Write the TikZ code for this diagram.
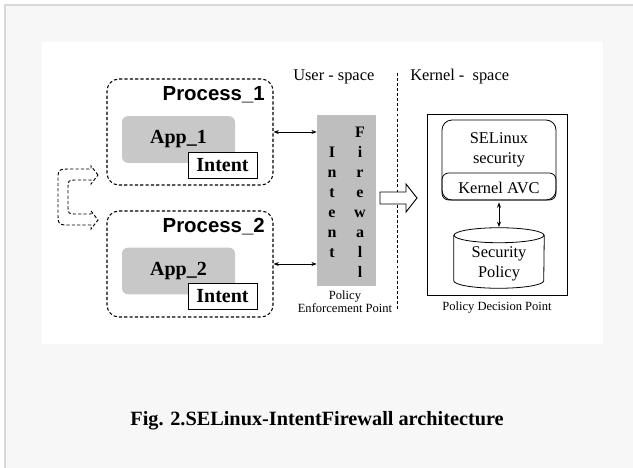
\documentclass[tikz,border=0pt]{standalone}
\usepackage{fontspec}
\setmainfont{Liberation Serif}
\newfontfamily\headsans{Liberation Sans}
\usetikzlibrary{arrows.meta}

\definecolor{pagebg}{HTML}{F7F7F7}
\definecolor{pageedge}{HTML}{D8D8D8}
\definecolor{appgray}{HTML}{C8C8C8}
\definecolor{fwgray}{HTML}{BEBEBE}

\begin{document}
\begin{tikzpicture}[x=0.75pt,y=-0.75pt,
  procbox/.style={draw, line width=0.8pt, dash pattern=on 2.4pt off 1.6pt,
    rounded corners=9pt, minimum width=124.5pt, minimum height=79.5pt, inner sep=0pt},
  appbox/.style={fill=appgray, rounded corners=4.5pt, minimum width=84.75pt,
    minimum height=35pt, inner sep=0pt, font=\fontsize{15}{18}\selectfont\bfseries},
  intentbox/.style={draw, fill=white, line width=0.6pt, minimum width=51.75pt,
    minimum height=19.5pt, inner sep=0pt, font=\fontsize{15}{18}\selectfont\bfseries},
  proctitle/.style={anchor=base east, inner sep=0pt,
    font=\headsans\fontsize{15.3}{18}\selectfont\bfseries},
  spacelabel/.style={anchor=base west, inner sep=0pt, font=\fontsize{12.3}{14}\selectfont},
  smalllabel/.style={inner sep=0pt, align=center, font=\fontsize{9.4}{9.75}\selectfont},
  boxtext/.style={inner sep=0pt, align=center, font=\fontsize{12.3}{15}\selectfont},
  fwletter/.style={anchor=base, inner sep=0pt, font=\fontsize{12}{14}\selectfont\bfseries},
  link/.style={line width=0.6pt, {Stealth[length=4pt,width=3pt]}-{Stealth[length=4pt,width=3pt]}},
  thinbox/.style={draw, line width=0.6pt, inner sep=0pt},
  hollow/.style={draw, line width=0.7pt, fill=white, line join=miter},
]
% page and panel
\useasboundingbox (0,0) rectangle (633,468);
\fill[white] (0,0) rectangle (633,468);
\fill[pagebg] (5,5) rectangle (633,468);
\draw[pageedge, line width=1.5pt] (5,468) -- (5,5) -- (633,5);
\fill[white] (42,42) rectangle (603,344);

% user / kernel separator
\node[spacelabel] (userlbl) at (293,80) {User - space};
\node[spacelabel] (kernlbl) at (410,80) {Kernel -\ \ space};
\coordinate (septop) at (397,73);
\coordinate (sepbot) at (397,310);
\draw[line width=0.6pt, dash pattern=on 2.2pt off 1.6pt] (septop) -- (sepbot);

% processes
\node[procbox] (proc1) at (190,132) {};
\node[proctitle] (ptitle1) at (265,100) {Process\_1};
\node[appbox] (app1) at (178.5,139.5) {App\_1};
\node[intentbox] (int1) at (222.5,165) {Intent};

\node[procbox] (proc2) at (190,264) {};
\node[proctitle] (ptitle2) at (265,232) {Process\_2};
\node[appbox] (app2) at (178.5,271) {App\_2};
\node[intentbox] (int2) at (222.5,296.5) {Intent};

% dashed U-turn arrow between the processes
\draw[line width=0.7pt, dash pattern=on 2.4pt off 1.6pt, line join=miter]
  (98,175) -- (91,166) -- (91,169) -- (71,169)
  .. controls (58,169) and (58,169) .. (58,182) -- (58,212)
  .. controls (58,225) and (58,225) .. (71,225) -- (91,225)
  -- (91,229) -- (98,220) -- (91,211) -- (91,214) -- (77,214)
  .. controls (68,214) and (68,214) .. (68,205) -- (68,189)
  .. controls (68,180) and (68,180) .. (77,180) -- (91,180) -- (91,184) -- cycle;

% intent firewall
\node[fill=fwgray, minimum width=44.25pt, minimum height=128.25pt, inner sep=0pt]
  (fw) at (346.5,200.5) {};
\foreach \ch [count=\k] in {I,n,t,e,n,t}
  \node[fwletter] (intl\k) at (332,137+20*\k) {\ch};
\foreach \ch [count=\k from 0] in {F,i,r,e,w,a,l,l}
  \node[fwletter] (fwl\k) at (360,137+20*\k) {\ch};
\node[smalllabel] (pep) at (345,301.5) {Policy\\Enforcement Point};

\draw[link] (proc1.east) -- (proc1.east -| fw.west);
\draw[link] (proc2.east) -- (proc2.east -| fw.west);

% block arrow into the kernel
\draw[hollow] (380,192) -- (406,192) -- (406,184) -- (417,198)
  -- (406,212) -- (406,204) -- (380,204) -- cycle;

% policy decision point
\node[thinbox, minimum width=105pt, minimum height=135.75pt] (pdp) at (497,204.5) {};
\node[thinbox, rounded corners=7.5pt, minimum width=85.5pt, minimum height=60pt]
  (selx) at (499,160) {};
\node[thinbox, rounded corners=5pt, minimum width=85.5pt, minimum height=20.25pt]
  (avc) at (499,186.5) {};
\node[boxtext] (selxtxt) at (499,150) {SELinux\\security};
\node[boxtext] (avctxt) at (499,187.5) {Kernel AVC};

\node[minimum width=67.5pt, minimum height=45pt, inner sep=0pt] (secpol) at (499,258) {};
\draw[line width=0.6pt, fill=white]
  ([yshift=-5.625pt]secpol.north west) -- ([yshift=5.625pt]secpol.south west)
  arc[start angle=180, end angle=360, x radius=33.75pt, y radius=5.625pt]
  -- ([yshift=-5.625pt]secpol.north east);
\draw[line width=0.6pt] ([yshift=-5.625pt]secpol.north)
  ellipse [x radius=33.75pt, y radius=5.625pt];
\node[boxtext] (poltxt) at (499,264) {Security\\Policy};
\draw[link, shorten <=1.5pt, shorten >=0.5pt] (avc.south) -- (secpol.north);

\node[smalllabel] (pdplbl) at (497,308) {Policy Decision Point};

% caption
\node[inner sep=0pt, font=\fontsize{15.2}{18}\selectfont\bfseries] (caption) at (317,421)
  {Fig. 2.SELinux-IntentFirewall architecture};
\end{tikzpicture}
\end{document}
